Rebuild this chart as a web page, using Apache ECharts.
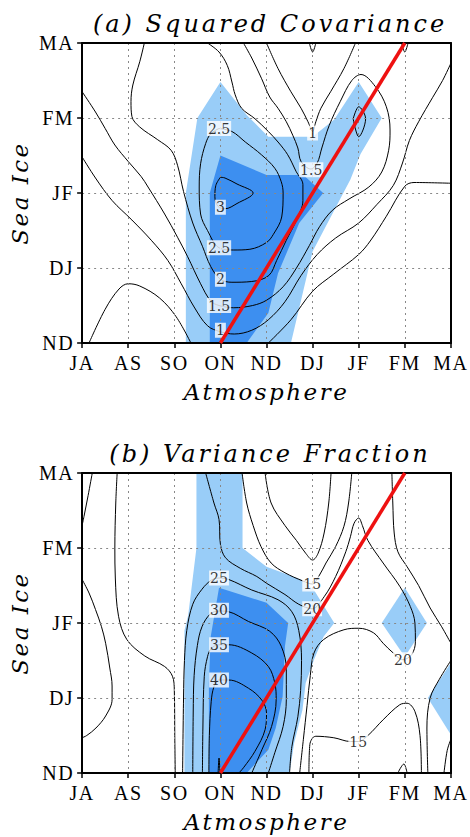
<!DOCTYPE html>
<html>
<head>
<meta charset="utf-8">
<script src="https://cdn.jsdelivr.net/npm/echarts@6/dist/echarts.min.js"></script>
<style>
  html, body { margin: 0; padding: 0; background: #fff; }
  #chart { width: 470px; height: 837px; }
</style>
</head>
<body>
<div id="chart"></div>
<script>
// axis tick labels (value axes 0..8 and 0..4)
const atmLabels = ['JA', 'AS', 'SO', 'ON', 'ND', 'DJ', 'JF', 'FM', 'MA']
const iceLabels = ['ND', 'DJ', 'JF', 'FM', 'MA']

// zero-lag line: atmosphere ON..FM vs sea ice ND..MA
const lagLine = [[3, 0], [7, 4]]

// ---- (a) squared covariance ----
const covLight = [[2.25, 0], [2.25, 2.0], [2.5, 3.0], [3.0, 3.48], [3.57, 3.04], [4.04, 2.75], [5.0, 2.75],
  [5.47, 2.98], [6.0, 3.48], [6.5, 3.0], [6.04, 2.52], [5.82, 2.18], [5.0, 1.22], [4.53, 0]]
const covDark = [[2.77, 0], [2.77, 2.0], [3.0, 2.5], [4.0, 2.24], [4.8, 2.24], [5.23, 2.0], [4.71, 1.6],
  [4.25, 0.93], [4.04, 0.4], [3.57, 0]]

const covC05left = [[0.15, 0], [0.5, 0.45], [0.8, 0.72], [1.0, 0.79], [1.25, 0.76], [1.68, 0.6], [2.04, 0.35], [2.36, 0]]
const covC05right = [[4.04, 0], [4.53, 0.31], [5.0, 0.69], [5.46, 0.92], [6.0, 1.18], [6.25, 1.36], [6.6, 1.69],
  [7.0, 2.09], [7.2, 2.14], [8, 2.13]]
const covC1 = [[0, 2.48], [0.29, 2.2], [0.65, 1.9], [1.08, 1.64], [1.5, 1.37], [1.86, 1.1], [2.15, 0.79], [2.43, 0.48],
  [2.72, 0.23], [3.0, 0.15], [3.3, 0.12], [3.68, 0.17], [4.04, 0.31], [4.4, 0.55], [4.75, 0.9], [5.1, 1.18],
  [5.5, 1.4], [6.0, 1.6], [6.4, 1.85], [6.75, 2.1], [6.95, 2.4], [7.1, 2.7], [7.3, 2.95], [7.6, 3.27], [7.82, 3.5], [8, 3.73]]
const covC1top = [[4.0, 4.0], [4.25, 3.66], [4.53, 3.35], [4.75, 3.13], [4.9, 2.95], [5.0, 2.82], [5.07, 2.95],
  [5.18, 3.13], [5.39, 3.35], [5.68, 3.66], [5.93, 4.0]]
const covC15 = [[0, 3.35], [0.29, 3.08], [0.5, 2.86], [0.71, 2.64], [1.0, 2.42], [1.28, 2.22], [1.43, 2.08],
  [1.79, 1.72], [2.07, 1.41], [2.29, 1.15], [2.57, 0.79], [2.79, 0.56], [2.97, 0.5], [3.29, 0.47], [3.7, 0.5],
  [4.0, 0.57], [4.36, 0.75], [4.65, 1.0], [4.93, 1.3], [5.15, 1.55], [5.43, 1.77], [5.79, 1.92], [6.22, 2.08],
  [6.5, 2.28], [6.65, 2.57], [6.68, 2.84], [6.6, 3.15], [6.36, 3.42], [6.05, 3.58], [5.85, 3.5], [5.6, 3.22],
  [5.36, 2.9], [5.2, 2.6], [5.1, 2.4], [4.96, 2.32], [4.75, 2.42], [4.68, 2.6], [4.57, 2.77], [4.43, 2.95],
  [4.25, 3.13], [4.07, 3.28], [3.89, 3.53], [3.68, 3.8], [3.5, 4.0]]
const covC2 = [[1.35, 4.0], [1.25, 3.75], [1.1, 3.44], [1.06, 3.22], [1.08, 3.02], [1.25, 2.88], [1.64, 2.71],
  [1.93, 2.57], [2.07, 2.37], [2.2, 2.02], [2.4, 1.6], [2.61, 1.29], [2.79, 1.02], [3.0, 0.85], [3.25, 0.81],
  [3.68, 0.82], [4.05, 0.9], [4.22, 1.1], [4.43, 1.37], [4.65, 1.64], [4.79, 1.9], [4.79, 2.11], [4.64, 2.29],
  [4.46, 2.51], [4.25, 2.68], [4.04, 2.82], [3.75, 2.99], [3.46, 3.13], [3.32, 3.31], [3.25, 3.48], [3.15, 3.7],
  [2.97, 3.88], [2.72, 4.0]]
const covC2small = [[5.88, 2.99], [6.0, 3.15], [6.15, 2.99], [6.0, 2.75], [5.88, 2.99]]
const covC25 = [[2.97, 2.86], [3.25, 2.82], [3.54, 2.68], [3.89, 2.51], [4.18, 2.33], [4.32, 2.15], [4.36, 2.0],
  [4.33, 1.68], [4.15, 1.45], [4.0, 1.34], [3.64, 1.25], [3.29, 1.24], [2.97, 1.27], [2.72, 1.5], [2.57, 1.72],
  [2.54, 2.08], [2.57, 2.39], [2.68, 2.66], [2.79, 2.79], [2.97, 2.86]]
const covC3 = [[3.0, 2.21], [2.9, 2.1], [2.88, 1.95], [2.95, 1.82], [3.1, 1.79], [3.36, 1.86], [3.71, 2.0],
  [3.36, 2.12], [3.1, 2.2], [3.0, 2.21]]
const covDip1 = [[4.93, 4.0], [5.0, 3.88], [5.07, 4.0]]
const covDip2 = [[6.93, 4.0], [7.0, 3.88], [7.07, 4.0]]
const covLabels = [[2.97, 2.86, '2.5'], [3.0, 1.81, '3'], [2.97, 1.27, '2.5'], [3.0, 0.85, '2'],
  [2.97, 0.5, '1.5'], [3.0, 0.17, '1'], [5.0, 2.8, '1'], [4.97, 2.31, '1.5']]

// ---- (b) variance fraction ----
const varLight = [[2.22, 0], [2.22, 1.9], [2.3, 2.1], [2.48, 3.0], [2.48, 4], [3.48, 4], [3.48, 3.0], [4.0, 2.75],
  [4.75, 2.58], [5.03, 2.44], [5.47, 2.0], [5.24, 1.82], [5.03, 1.51], [4.85, 1.2], [4.78, 0.84], [4.6, 0.4], [4.5, 0]]
const varDiamond = [[7.0, 2.47], [7.48, 2.0], [7.0, 1.55], [6.5, 2.0]]
const varEdge = [[8, 1.47], [7.5, 1.0], [8, 0.51]]
const varDark = [[2.75, 0], [2.75, 1.2], [2.79, 1.82], [2.97, 2.47], [4.0, 2.27], [4.47, 2.0], [4.4, 1.69],
  [4.35, 1.02], [4.2, 0.6], [4.04, 0.31], [3.57, 0]]

const varB1 = [[0.22, 4], [0.13, 3.7], [0.04, 3.42], [0, 3.3]]
const varB2 = [[0, 2.58], [0.15, 2.4], [0.29, 2.18], [0.42, 1.95], [0.51, 1.73], [0.6, 1.4], [0.65, 1.16],
  [0.65, 0.98], [0.51, 0.76], [0.3, 0.6], [0.1, 0.5], [0, 0.47]]
const varC20left = [[0.76, 4], [0.73, 3.6], [0.71, 3.0], [0.72, 2.6], [0.79, 2.09], [0.97, 1.78], [1.36, 1.56],
  [1.79, 1.42], [1.96, 1.29], [2.0, 1.1], [2.01, 0.5], [2.02, 0]]
const varC10 = [[3.97, 4], [4.1, 3.6], [4.4, 3.3], [4.65, 3.1], [4.85, 2.93], [5.0, 2.84], [5.12, 2.93],
  [5.25, 3.2], [5.35, 3.6], [5.4, 4]]
const varC15 = [[3.47, 4], [3.57, 3.6], [3.71, 3.3], [3.88, 3.02], [4.1, 2.8], [4.4, 2.67], [4.79, 2.56],
  [4.99, 2.52], [5.15, 2.64], [5.29, 2.8], [5.5, 3.02], [5.68, 3.29], [5.78, 3.6], [5.85, 4]]
const varC15right = [[6.72, 4], [6.74, 3.6], [6.77, 3.2], [6.85, 2.95], [7.05, 2.75], [7.3, 2.5], [7.55, 2.2],
  [7.8, 1.95], [8, 1.73]]
const varC15low = [[4.92, 0], [4.94, 0.38], [5.07, 0.49], [5.46, 0.47], [5.82, 0.42], [5.99, 0.42], [6.2, 0.5],
  [6.53, 0.71], [6.89, 0.91], [7.05, 0.93], [7.22, 0.82], [7.33, 0.5], [7.36, 0]]
const varC20 = [[2.68, 4], [2.86, 3.6], [2.97, 3.38], [3.0, 3.05], [3.11, 2.87], [3.43, 2.73], [3.79, 2.62],
  [4.0, 2.53], [4.4, 2.38], [4.7, 2.25], [4.99, 2.19], [5.25, 2.35], [5.5, 2.62], [5.72, 2.95], [5.82, 3.15],
  [5.9, 3.33], [6.0, 3.4], [6.08, 3.3], [6.2, 3.1], [6.53, 2.8], [6.89, 2.49], [7.12, 2.22], [7.22, 2.0],
  [7.23, 1.75], [7.15, 1.58], [6.96, 1.51], [6.75, 1.6], [6.53, 1.73], [6.32, 1.87], [6.0, 1.93], [5.68, 1.91],
  [5.24, 1.78], [5.03, 1.6], [4.95, 1.3], [4.88, 0.9], [4.8, 0.45], [4.72, 0]]
const varC25 = [[2.18, 0], [2.2, 1.0], [2.22, 1.5], [2.27, 1.9], [2.4, 2.25], [2.6, 2.45], [2.8, 2.57], [2.97, 2.6],
  [3.18, 2.58], [3.68, 2.44], [4.25, 2.31], [4.55, 2.15], [4.7, 1.9], [4.76, 1.5], [4.74, 1.1], [4.68, 0.75],
  [4.55, 0.35], [4.5, 0]]
const varC30 = [[2.4, 0], [2.41, 0.8], [2.43, 1.3], [2.5, 1.7], [2.6, 1.95], [2.78, 2.12], [2.97, 2.16],
  [3.18, 2.15], [3.61, 2.02], [4.07, 1.89], [4.32, 1.69], [4.43, 1.38], [4.43, 0.98], [4.36, 0.62], [4.18, 0.27], [4.04, 0]]
const varC35 = [[2.61, 0], [2.62, 0.6], [2.65, 1.29], [2.72, 1.55], [2.8, 1.66], [2.97, 1.71], [3.18, 1.71],
  [3.68, 1.6], [4.04, 1.42], [4.18, 1.2], [4.21, 0.98], [4.11, 0.62], [3.9, 0.31], [3.68, 0]]
const varC40 = [[2.75, 0], [2.76, 0.5], [2.8, 0.95], [2.86, 1.15], [2.97, 1.24], [3.18, 1.24], [3.61, 1.13],
  [3.9, 0.97], [4.0, 0.8], [3.97, 0.58], [3.75, 0.29], [3.5, 0.07], [3.4, 0]]
const varSpike = [[2.95, 0], [2.97, 0.2], [2.99, 0]]
const varRight = [[8, 1.5], [7.75, 1.25], [7.55, 1.0], [7.48, 0.6], [7.5, 0]]
const varCorner = [[7.85, 0], [7.92, 0.3], [8, 0.45]]
const varBump = [[6.85, 0], [6.98, 0.12], [7.05, 0]]
const varLabels = [[2.97, 2.6, '25'], [2.97, 2.17, '30'], [2.97, 1.71, '35'], [2.97, 1.24, '40'],
  [4.99, 2.52, '15'], [4.99, 2.19, '20'], [6.96, 1.51, '20'], [5.99, 0.42, '15']]

const lightBlue = '#99cdf8'
const darkBlue = '#3d8ff0'
const serif = 'Liberation Serif'
const titleFont = 'DejaVu Serif'

function shade(polys, color, ai) {
  return {
    type: 'custom',
    xAxisIndex: ai,
    yAxisIndex: ai,
    z: 1,
    silent: true,
    data: polys.map((p) => p[0]),
    renderItem: (params, api) => ({
      type: 'polygon',
      shape: { points: polys[params.dataIndex].map((pt) => api.coord(pt)) },
      style: { fill: color }
    })
  }
}

function contour(pts, ai) {
  return {
    type: 'line',
    xAxisIndex: ai,
    yAxisIndex: ai,
    data: pts,
    smooth: 0.35,
    symbol: 'none',
    silent: true,
    z: 3,
    lineStyle: { color: '#000', width: 1 }
  }
}

function labels(list, ai) {
  return {
    type: 'scatter',
    xAxisIndex: ai,
    yAxisIndex: ai,
    symbolSize: 0,
    silent: true,
    z: 6,
    data: list.map((d) => ({ value: [d[0], d[1]], name: d[2] })),
    label: {
      show: true,
      position: 'inside',
      formatter: '{b}',
      color: '#000',
      backgroundColor: '#fff',
      padding: [1, 1, 0, 1],
      fontFamily: titleFont,
      fontSize: 14
    }
  }
}

function redLine(ai) {
  return {
    type: 'line',
    xAxisIndex: ai,
    yAxisIndex: ai,
    data: lagLine,
    symbol: 'none',
    silent: true,
    z: 8,
    lineStyle: { color: '#ee1111', width: 3.5 }
  }
}

const dotted = { show: true, lineStyle: { color: '#888', type: [2, 4], width: 1 } }
const nameStyle = { fontFamily: titleFont, fontStyle: 'italic', fontSize: 23, color: '#000' }
const titleStyle = { fontFamily: titleFont, fontStyle: 'italic', fontWeight: 'normal', fontSize: 24, color: '#000' }

function xAxes(gi) {
  return [{
    gridIndex: gi, type: 'value', min: 0, max: 8, interval: 1, z: 4,
    axisLine: { onZero: false, lineStyle: { color: '#000', width: 2 } },
    axisTick: { length: 5, lineStyle: { color: '#000', width: 1.5 } },
    axisLabel: { formatter: (v) => atmLabels[v], fontFamily: serif, fontSize: 20, color: '#000', margin: 10 },
    splitLine: dotted,
    name: 'Atmosphere', nameLocation: 'middle', nameGap: 37, nameTextStyle: nameStyle
  }, {
    gridIndex: gi, type: 'value', position: 'top', min: 0, max: 8, z: 4,
    axisLine: { onZero: false, lineStyle: { color: '#000', width: 2 } },
    axisTick: { show: false }, axisLabel: { show: false }, splitLine: { show: false }
  }]
}

function yAxes(gi) {
  return [{
    gridIndex: gi, type: 'value', min: 0, max: 4, interval: 1, z: 4,
    axisLine: { onZero: false, lineStyle: { color: '#000', width: 2 } },
    axisTick: { length: 5, lineStyle: { color: '#000', width: 1.5 } },
    axisLabel: { formatter: (v) => iceLabels[v], fontFamily: serif, fontSize: 20, color: '#000', margin: 8 },
    splitLine: dotted,
    name: 'Sea Ice', nameLocation: 'middle', nameGap: 48, nameTextStyle: nameStyle
  }, {
    gridIndex: gi, type: 'value', position: 'right', min: 0, max: 4, z: 4,
    axisLine: { onZero: false, lineStyle: { color: '#000', width: 2 } },
    axisTick: { show: false }, axisLabel: { show: false }, splitLine: { show: false }
  }]
}

const chart = echarts.init(document.getElementById('chart'), null, { renderer: 'svg' })

const covLines = [covC05left, covC05right, covC1, covC1top, covC15, covC2, covC2small, covC25, covC3, covDip1, covDip2]
const varLines = [varB1, varB2, varC20left, varC10, varC15, varC15right, varC15low, varC20, varC25, varC30,
  varC35, varC40, varSpike, varRight, varCorner, varBump]

// the original lettering is widely spaced; widen titles, names and ticks
function spaceText() {
  document.querySelectorAll('#chart text').forEach((el) => {
    const t = el.textContent
    if (t.startsWith('(')) el.style.letterSpacing = '3px'
    else if (t === 'Atmosphere' || t === 'Sea Ice') el.style.letterSpacing = '2.5px'
    else if (atmLabels.includes(t) || iceLabels.includes(t)) el.style.letterSpacing = '1.5px'
  })
}
chart.on('finished', spaceText)

chart.setOption({
  animation: false,
  title: [
    { text: '(a) Squared Covariance', left: 265, textAlign: 'center', top: 7, textStyle: titleStyle },
    { text: '(b) Variance Fraction', left: 265, textAlign: 'center', top: 437, textStyle: titleStyle }
  ],
  grid: [
    { left: 78, top: 43, width: 374, height: 300 },
    { left: 78, top: 473, width: 374, height: 300 }
  ],
  xAxis: [...xAxes(0), ...xAxes(1)],
  yAxis: [...yAxes(0), ...yAxes(1)],
  series: [
    shade([covLight], lightBlue, 0),
    shade([covDark], darkBlue, 0),
    ...covLines.map((c) => contour(c, 0)),
    labels(covLabels, 0),
    redLine(0),
    shade([varLight, varDiamond, varEdge], lightBlue, 2),
    shade([varDark], darkBlue, 2),
    ...varLines.map((c) => contour(c, 2)),
    labels(varLabels, 2),
    redLine(2)
  ]
})
spaceText()
setTimeout(spaceText, 50)
</script>
</body>
</html>
